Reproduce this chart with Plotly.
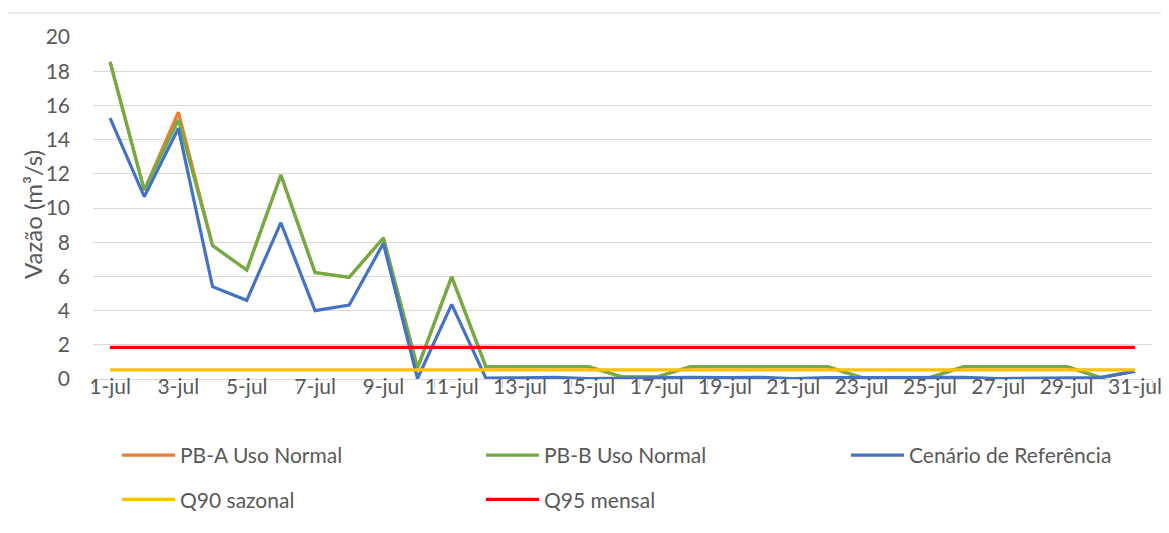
import plotly.graph_objects as go

days = [f"{d}-jul" for d in range(1, 32)]

pb_a = [18.55, 11.05, 15.6, 7.8, 6.37, 11.93, 6.22, 5.95, 8.25, 0.65, 5.98,
        0.72, 0.72, 0.72, 0.72, 0.12, 0.12, 0.72, 0.72, 0.72, 0.72, 0.72,
        0.08, 0.08, 0.08, 0.72, 0.72, 0.72, 0.72, 0.08, 0.47]
pb_b = [18.55, 11.05, 15.15, 7.8, 6.37, 11.93, 6.22, 5.95, 8.25, 0.65, 5.98,
        0.72, 0.72, 0.72, 0.72, 0.12, 0.12, 0.72, 0.72, 0.72, 0.72, 0.72,
        0.08, 0.08, 0.08, 0.72, 0.72, 0.72, 0.72, 0.08, 0.47]
referencia = [15.25, 10.66, 14.66, 5.4, 4.6, 9.14, 4.0, 4.33, 7.93, 0.03, 4.36,
              0.05, 0.07, 0.1, 0.03, 0.05, 0.1, 0.1, 0.08, 0.1, 0.03, 0.08,
              0.08, 0.08, 0.08, 0.1, 0.03, 0.06, 0.08, 0.08, 0.45]
q90 = [0.53, 0.53, 0.53, 0.53, 0.53, 0.53, 0.53, 0.53, 0.53, 0.53, 0.53,
       0.53, 0.53, 0.53, 0.53, 0.53, 0.53, 0.53, 0.53, 0.53, 0.53, 0.53,
       0.53, 0.53, 0.53, 0.53, 0.53, 0.53, 0.53, 0.53, 0.53]
q95 = [1.85, 1.85, 1.85, 1.85, 1.85, 1.85, 1.85, 1.85, 1.85, 1.85, 1.85,
       1.85, 1.85, 1.85, 1.85, 1.85, 1.85, 1.85, 1.85, 1.85, 1.85, 1.85,
       1.85, 1.85, 1.85, 1.85, 1.85, 1.85, 1.85, 1.85, 1.85]

tick_labels = days[::2]
y_ticks = [0, 2, 4, 6, 8, 10, 12, 14, 16, 18, 20]
y_title = "Vazão (m³/s)"

# name, values, colour, legend column, legend row group
series = [
    ("PB-A Uso Normal", pb_a, "#ED7D31", "legend", "r1"),
    ("PB-B Uso Normal", pb_b, "#70AD47", "legend2", "r1"),
    ("Cenário de Referência", referencia, "#4472C4", "legend3", "r1"),
    ("Q90 sazonal", q90, "#FFC000", "legend", "r2"),
    ("Q95 mensal", q95, "#FF0000", "legend2", "r2"),
]

FONT = "Lato, 'Open Sans', sans-serif"
GRAY = "#595959"
FS = 21

fig = go.Figure()
for name, vals, color, lg, grp in series:
    fig.add_trace(go.Scatter(
        x=days, y=vals, name=name, mode="lines",
        line=dict(color=color, width=3.2),
        legend=lg, legendgroup=grp,
    ))

# page offset introduced by the default body margin of the html page
OFF = 8
W, H = 1169, 533
# desired plot area in page pixels: x 93..1152, y 37..379
L = 93 - OFF
T = 37 - OFF
R = W - (1152 - OFF)
B = H - (379 - OFF)
pw, ph = W - L - R, H - T - B


def px_x(v):
    return (v - OFF - L) / pw


def px_y(v):
    return (H - B - (v - OFF)) / ph


ITEMW = 53


def legend_col(text_x_page):
    return dict(
        orientation="v", x=px_x(text_x_page - ITEMW - 10), y=px_y(435),
        xanchor="left", yanchor="top", itemwidth=ITEMW,
        traceorder="grouped", tracegroupgap=14,
        font=dict(family=FONT, size=FS, color=GRAY), bgcolor="rgba(0,0,0,0)",
        itemclick=False,
    )


# category-boundary positions for the tick marks (every second day)
n_days = len(days)
boundary_ticks = [i - 0.5 for i in range(0, n_days, 2)]

fig.update_layout(
    width=W, height=H,
    margin=dict(l=L, r=R, t=T, b=B),
    paper_bgcolor="white", plot_bgcolor="white",
    font=dict(family=FONT, size=FS, color=GRAY),
    xaxis=dict(
        type="category", range=[-0.5, n_days - 0.5], automargin=False,
        tickmode="array", tickvals=tick_labels, ticktext=tick_labels,
        tickangle=0,
        tickson="boundaries", ticks="outside", ticklen=8,
        tickcolor="#d0d0d0", tickwidth=1,
        ticklabelstandoff=-11,
        showgrid=False, showline=True, linecolor="#d9d9d9", linewidth=1,
        tickfont=dict(family=FONT, size=FS, color=GRAY),
        zeroline=False,
    ),
    xaxis2=dict(
        type="linear", overlaying="x", anchor="y", side="bottom",
        range=[-0.5, n_days - 0.5], automargin=False,
        tickmode="array", tickvals=boundary_ticks,
        ticks="outside", ticklen=8, tickcolor="#d0d0d0", tickwidth=1,
        showticklabels=False, showgrid=False, showline=False, zeroline=False,
    ),
    yaxis=dict(
        range=[0, 20], tickvals=y_ticks, automargin=False,
        showgrid=True, gridcolor="#d9d9d9", gridwidth=1,
        zeroline=False, showline=False, ticks="",
        ticklabelstandoff=22,
        tickfont=dict(family=FONT, size=FS, color=GRAY),
    ),
    legend=legend_col(180),
    legend2=legend_col(544),
    legend3=legend_col(909),
    showlegend=True,
)

fig.add_annotation(
    text=y_title, textangle=-90, showarrow=False,
    xref="paper", yref="paper", x=px_x(32), y=px_y(215),
    xanchor="center", yanchor="middle",
    font=dict(family=FONT, size=24, color=GRAY),
)

fig.add_shape(type="rect", xref="paper", yref="paper",
              x0=px_x(7), x1=px_x(1185),
              y0=px_y(550), y1=px_y(13),
              line=dict(color="#d9d9d9", width=1), fillcolor="rgba(0,0,0,0)",
              layer="below")

fig.write_html("out.html")
